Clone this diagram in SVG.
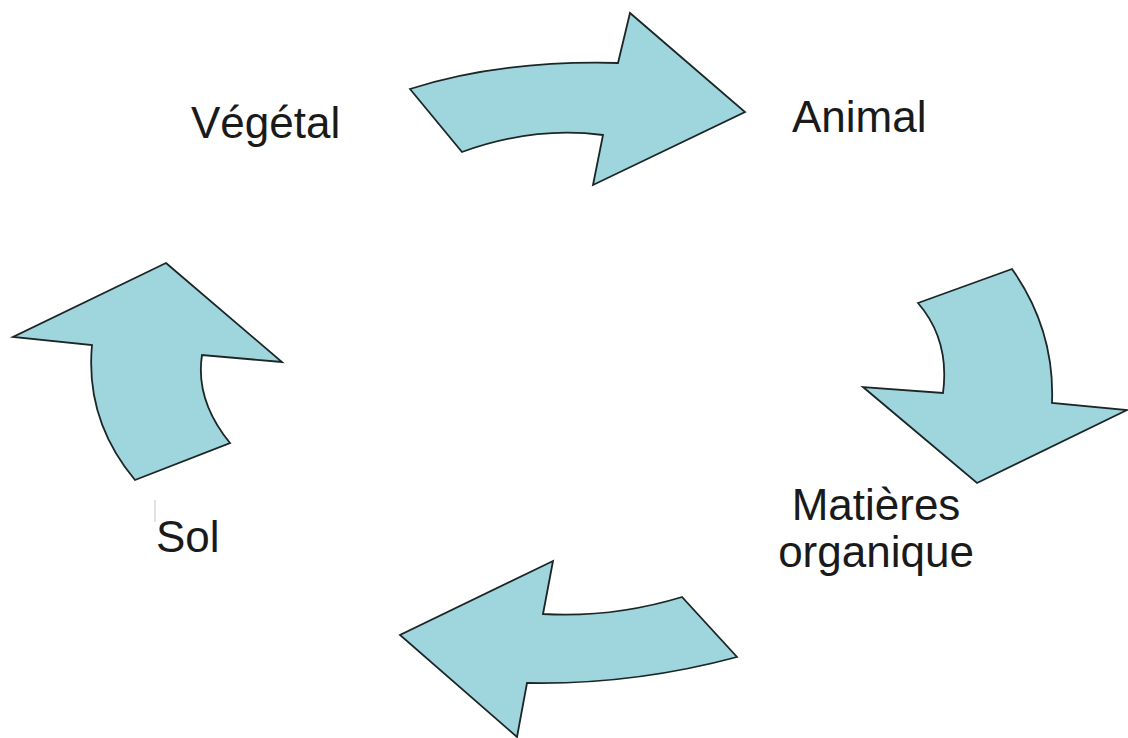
<svg xmlns="http://www.w3.org/2000/svg" width="1128" height="738" viewBox="0 0 1128 738">
<style>
.arr{fill:#9fd5dc;stroke:#1c2626;stroke-width:1.8;stroke-linejoin:miter}
.lbl{font-family:"Liberation Sans",Arial,sans-serif;font-size:44px;fill:#1a1a1a}
</style>
<rect width="1128" height="738" fill="#ffffff"/>
<g id="connectors">
<path id="arrow-top" class="arr" d="M410,89 Q500,60 618,63 L630,13 L745,112 L593,185 L603,135 Q533,126 462,152 Z"/>
<path id="arrow-right" class="arr" d="M918,303 L1012,269 Q1055,330 1052,403 L1127,410 L977,483 L863,387 L943,393 Q950,340 918,303 Z"/>
<path id="arrow-bottom" class="arr" d="M553,561 L543,614 Q613,618 682,597 L737,657 Q633,685 527,683 L517,737 L400,635 Z"/>
<path id="arrow-left" class="arr" d="M166,263 L282,362 L202,355 Q195,400 230,443 L135,480 Q85,420 92,345 L13,337 Z"/>
</g>
<g id="node-vegetal"><text class="lbl" x="191" y="138">Végétal</text></g>
<g id="node-animal"><text class="lbl" x="792" y="132">Animal</text></g>
<g id="node-matieres"><text class="lbl" x="876" y="520" text-anchor="middle">Matières</text><text class="lbl" x="876" y="567" text-anchor="middle">organique</text></g>
<g id="node-sol"><line x1="155" y1="500" x2="155" y2="522" stroke="#d8d8d8" stroke-width="1.5"/><text class="lbl" x="156" y="552">Sol</text></g>
</svg>
